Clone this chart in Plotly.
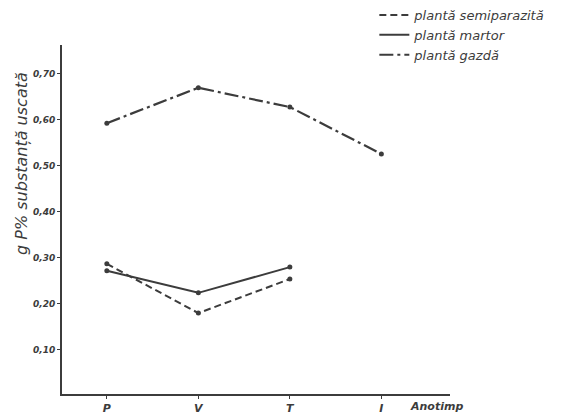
import plotly.graph_objects as go

# Seasons (anotimp) and phosphorus content, g P% dry matter
seasons = ["P", "V", "T", "I"]
gazda = [0.593, 0.670, 0.628, 0.526]          # host plant
martor = [0.272, 0.224, 0.280]                  # control plant
semiparazita = [0.287, 0.180, 0.254]            # semi-parasitic plant

y_ticks = [0.10, 0.20, 0.30, 0.40, 0.50, 0.60, 0.70]
y_labels = ["0,10", "0,20", "0,30", "0,40", "0,50", "0,60", "0,70"]

ink = "#3c3c3c"
hand = dict(family="DejaVu Sans", size=11, color=ink, style="italic")

series = [
    ("plantă semiparazită", semiparazita, dict(color=ink, width=2, dash="7px,4px")),
    ("plantă martor", martor, dict(color=ink, width=2)),
    ("plantă gazdă", gazda, dict(color=ink, width=2.2, dash="14px,4px,3px,4px")),
]

fig = go.Figure()
for name, vals, line in series:
    fig.add_trace(go.Scatter(
        x=seasons[:len(vals)], y=vals, name=name, showlegend=False,
        mode="lines+markers", line=line, marker=dict(size=5, color=ink)))
# legend entries: line samples only
for name, vals, line in series:
    fig.add_trace(go.Scatter(x=[None], y=[None], name=name, mode="lines", line=line))

fig.update_layout(
    width=582, height=419,
    margin=dict(l=62, r=132, t=45, b=25, autoexpand=False),
    paper_bgcolor="white", plot_bgcolor="white",
    font=hand,
    showlegend=True,
    legend=dict(x=0.805, y=1.0, xanchor="left", yanchor="top",
                xref="paper", yref="container",
                bgcolor="rgba(0,0,0,0)", tracegroupgap=0,
                font=dict(family="DejaVu Sans", size=13, color=ink, style="italic"),
                itemwidth=30),
    annotations=[
        dict(text="g P% substanță uscată", x=-0.105, y=0.66, xref="paper", yref="paper",
             xanchor="center", textangle=-90, showarrow=False,
             font=dict(family="DejaVu Sans", size=16, color=ink, style="italic")),
        dict(text="Anotimp", x=0.892, y=-0.012, xref="paper", yref="paper",
             xanchor="left", yanchor="top", showarrow=False,
             font=dict(family="DejaVu Sans", size=11, color=ink, style="italic", weight="bold")),
    ],
)

fig.update_xaxes(
    type="category", categoryorder="array", categoryarray=seasons,
    range=[-0.49, 3.75], showline=True, linecolor=ink, linewidth=2,
    showgrid=False, zeroline=False, ticks="outside", ticklen=3, tickcolor=ink,
    tickfont=dict(family="DejaVu Sans", size=11, color=ink, style="italic", weight="bold"))
fig.update_yaxes(
    range=[0.004, 0.763], tickvals=y_ticks, ticktext=y_labels,
    showline=True, linecolor=ink, linewidth=2, showgrid=False, zeroline=False,
    ticks="outside", ticklen=3, tickcolor=ink,
    tickfont=dict(family="DejaVu Sans", size=9, color=ink, style="italic", weight="bold"))

fig.write_html("out.html")
